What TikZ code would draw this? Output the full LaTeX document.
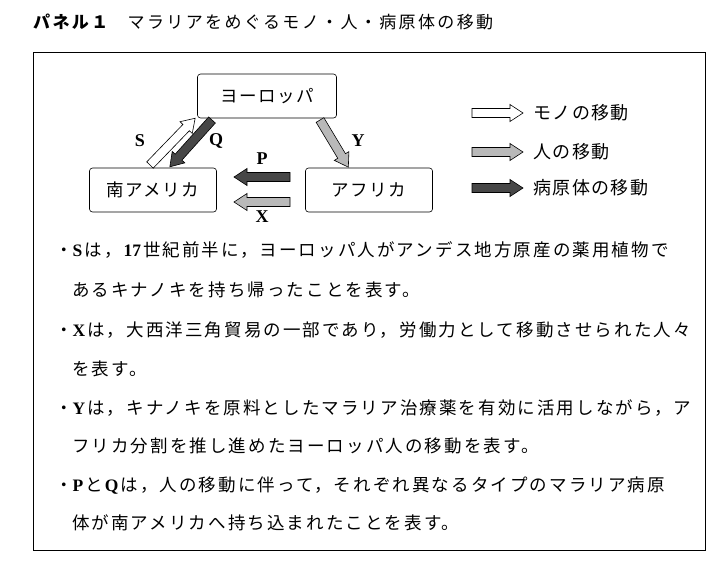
\documentclass[tikz,border=0pt]{standalone}
\usepackage{fontspec}
\setmainfont{Noto Sans CJK JP}[LetterSpace=8]
\newfontfamily\lat{Liberation Serif}
\newfontfamily\wide{Noto Sans CJK JP}[LetterSpace=12]
\newfontfamily\ttl{Noto Sans CJK JP}[LetterSpace=14]
\newcommand{\Lt}[1]{{\lat\bfseries #1}\hspace{2pt}}
\newcommand{\barrow}[4]{\begin{scope}[shift={#2},rotate=#3]
 \draw[#1] (0,-4.5)--(#4-13,-4.5)--(#4-13,-8.5)--(#4,0)--(#4-13,8.5)--(#4-13,4.5)--(0,4.5)--cycle;
 \end{scope}}
\begin{document}
\begin{tikzpicture}[x=1pt,y=-1pt,
 box/.style={draw,rounded corners=3pt,minimum width=127pt,minimum height=44pt,font=\fontsize{17.5}{17.5}\selectfont,line width=0.6pt},
 arr/.style={draw,line width=0.6pt,line join=miter},
 goods/.style={arr,fill=white},
 people/.style={arr,fill=gray!55},
 pathogen/.style={arr,fill=black!72},
 lab/.style={font=\fontsize{18}{18}\selectfont\lat\bfseries},
 txt/.style={anchor=west,inner sep=0pt,font=\fontsize{17.5}{17.5}\wide},
 leg/.style={anchor=west,inner sep=0pt,font=\fontsize{18}{18}\selectfont}]
\useasboundingbox (0,0) rectangle (728,563);
\node[anchor=west,inner sep=0pt,font=\fontsize{17}{17}\ttl] (title) at (33,22) {\textbf{パネル１}\quad マラリアをめぐるモノ・人・病原体の移動};
\node[draw,line width=0.6pt,minimum width=672pt,minimum height=498pt,inner sep=0pt] (frame) at (369,301) {};
\node[box,minimum width=139pt] (eu) at (267,96) {ヨーロッパ};
\node[box] (sa) at (153,190) {南アメリカ};
\node[box] (af) at (369,190) {アフリカ};
\barrow{goods}{(150,165)}{46}{65}
\barrow{pathogen}{(212,120)}{-132}{63}
\barrow{people}{(320,120)}{-59}{55}
\barrow{pathogen}{(290,177)}{180}{56}
\barrow{people}{(290,202)}{180}{56}
\node[lab] (lS) at (140,141) {S};
\node[lab] (lQ) at (216,141) {Q};
\node[lab] (lY) at (358,141) {Y};
\node[lab] (lP) at (262,159) {P};
\node[lab] (lX) at (262,217) {X};
\barrow{goods}{(472,113)}{0}{51}
\barrow{people}{(472,152)}{0}{51}
\barrow{pathogen}{(472,188)}{0}{51}
\node[leg] (t1) at (533,113) {モノの移動};
\node[leg] (t2) at (533,152) {人の移動};
\node[leg] (t3) at (533,188) {病原体の移動};
\node[txt] (a1) at (55,250) {・\Lt{S}は，\hspace{2pt}\Lt{17}世紀前半に，ヨーロッパ人がアンデス地方原産の薬用植物で};
\node[txt] (a2) at (72,290) {あるキナノキを持ち帰ったことを表す。};
\node[txt] (b1) at (55,330) {・\Lt{X}は，大西洋三角貿易の一部であり，労働力として移動させられた人々};
\node[txt] (b2) at (72,369) {を表す。};
\node[txt] (c1) at (55,408) {・\Lt{Y}は，キナノキを原料としたマラリア治療薬を有効に活用しながら，ア};
\node[txt] (c2) at (72,446) {フリカ分割を推し進めたヨーロッパ人の移動を表す。};
\node[txt] (d1) at (55,486) {・\Lt{P}と\hspace{2pt}\Lt{Q}は，人の移動に伴って，それぞれ異なるタイプのマラリア病原};
\node[txt] (d2) at (72,523) {体が南アメリカへ持ち込まれたことを表す。};
\end{tikzpicture}
\end{document}
